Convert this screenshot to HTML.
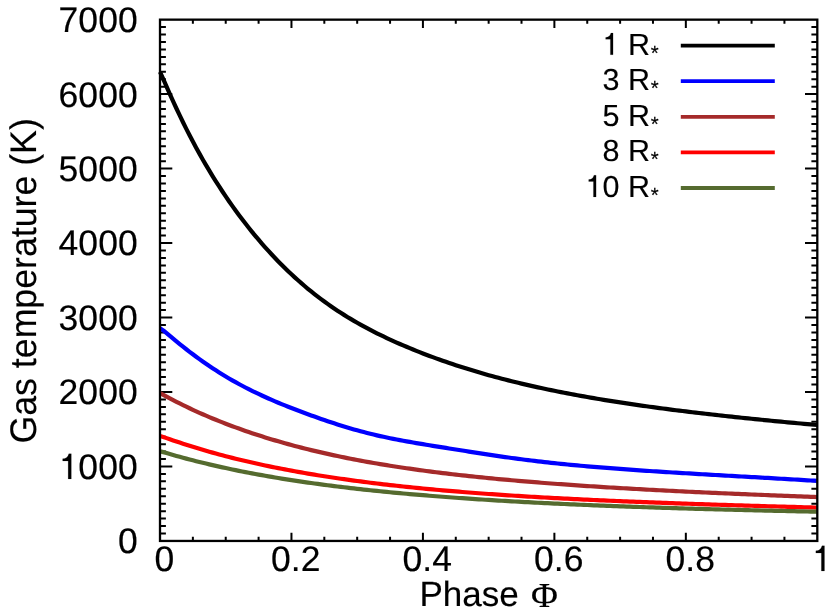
<!DOCTYPE html>
<html><head><meta charset="utf-8"><title>Gas temperature vs phase</title>
<style>html,body{margin:0;padding:0;background:#fff;}svg{display:block;will-change:transform;}text{font-family:"Liberation Sans",sans-serif;fill:#000;stroke:#000;stroke-width:0.15px;text-rendering:geometricPrecision;}.ser{font-family:"Liberation Serif",serif;}.h{fill:none;stroke:none;}</style></head><body>
<svg width="830" height="614" viewBox="0 0 830 614">
<rect x="0" y="0" width="830" height="614" fill="#ffffff"/>
<path d="M192.87 540.95 V536.75 M192.87 19.65 V23.85 M225.73 540.95 V536.75 M225.73 19.65 V23.85 M258.60 540.95 V536.75 M258.60 19.65 V23.85 M291.46 540.95 V532.65 M291.46 19.65 V27.95 M324.32 540.95 V536.75 M324.32 19.65 V23.85 M357.19 540.95 V536.75 M357.19 19.65 V23.85 M390.06 540.95 V536.75 M390.06 19.65 V23.85 M422.92 540.95 V532.65 M422.92 19.65 V27.95 M455.78 540.95 V536.75 M455.78 19.65 V23.85 M488.65 540.95 V536.75 M488.65 19.65 V23.85 M521.51 540.95 V536.75 M521.51 19.65 V23.85 M554.38 540.95 V532.65 M554.38 19.65 V27.95 M587.25 540.95 V536.75 M587.25 19.65 V23.85 M620.11 540.95 V536.75 M620.11 19.65 V23.85 M652.97 540.95 V536.75 M652.97 19.65 V23.85 M685.84 540.95 V532.65 M685.84 19.65 V27.95 M718.71 540.95 V536.75 M718.71 19.65 V23.85 M751.57 540.95 V536.75 M751.57 19.65 V23.85 M784.43 540.95 V536.75 M784.43 19.65 V23.85 M160.00 533.50 H165.90 M817.30 533.50 H811.40 M160.00 526.06 H165.90 M817.30 526.06 H811.40 M160.00 518.61 H165.90 M817.30 518.61 H811.40 M160.00 511.16 H165.90 M817.30 511.16 H811.40 M160.00 503.71 H165.90 M817.30 503.71 H811.40 M160.00 496.27 H165.90 M817.30 496.27 H811.40 M160.00 488.82 H165.90 M817.30 488.82 H811.40 M160.00 481.37 H165.90 M817.30 481.37 H811.40 M160.00 473.93 H165.90 M817.30 473.93 H811.40 M160.00 466.48 H172.30 M817.30 466.48 H805.00 M160.00 459.03 H165.90 M817.30 459.03 H811.40 M160.00 451.58 H165.90 M817.30 451.58 H811.40 M160.00 444.14 H165.90 M817.30 444.14 H811.40 M160.00 436.69 H165.90 M817.30 436.69 H811.40 M160.00 429.24 H165.90 M817.30 429.24 H811.40 M160.00 421.80 H165.90 M817.30 421.80 H811.40 M160.00 414.35 H165.90 M817.30 414.35 H811.40 M160.00 406.90 H165.90 M817.30 406.90 H811.40 M160.00 399.45 H165.90 M817.30 399.45 H811.40 M160.00 392.01 H172.30 M817.30 392.01 H805.00 M160.00 384.56 H165.90 M817.30 384.56 H811.40 M160.00 377.11 H165.90 M817.30 377.11 H811.40 M160.00 369.67 H165.90 M817.30 369.67 H811.40 M160.00 362.22 H165.90 M817.30 362.22 H811.40 M160.00 354.77 H165.90 M817.30 354.77 H811.40 M160.00 347.32 H165.90 M817.30 347.32 H811.40 M160.00 339.88 H165.90 M817.30 339.88 H811.40 M160.00 332.43 H165.90 M817.30 332.43 H811.40 M160.00 324.98 H165.90 M817.30 324.98 H811.40 M160.00 317.54 H172.30 M817.30 317.54 H805.00 M160.00 310.09 H165.90 M817.30 310.09 H811.40 M160.00 302.64 H165.90 M817.30 302.64 H811.40 M160.00 295.19 H165.90 M817.30 295.19 H811.40 M160.00 287.75 H165.90 M817.30 287.75 H811.40 M160.00 280.30 H165.90 M817.30 280.30 H811.40 M160.00 272.85 H165.90 M817.30 272.85 H811.40 M160.00 265.41 H165.90 M817.30 265.41 H811.40 M160.00 257.96 H165.90 M817.30 257.96 H811.40 M160.00 250.51 H165.90 M817.30 250.51 H811.40 M160.00 243.06 H172.30 M817.30 243.06 H805.00 M160.00 235.62 H165.90 M817.30 235.62 H811.40 M160.00 228.17 H165.90 M817.30 228.17 H811.40 M160.00 220.72 H165.90 M817.30 220.72 H811.40 M160.00 213.28 H165.90 M817.30 213.28 H811.40 M160.00 205.83 H165.90 M817.30 205.83 H811.40 M160.00 198.38 H165.90 M817.30 198.38 H811.40 M160.00 190.93 H165.90 M817.30 190.93 H811.40 M160.00 183.49 H165.90 M817.30 183.49 H811.40 M160.00 176.04 H165.90 M817.30 176.04 H811.40 M160.00 168.59 H172.30 M817.30 168.59 H805.00 M160.00 161.15 H165.90 M817.30 161.15 H811.40 M160.00 153.70 H165.90 M817.30 153.70 H811.40 M160.00 146.25 H165.90 M817.30 146.25 H811.40 M160.00 138.80 H165.90 M817.30 138.80 H811.40 M160.00 131.36 H165.90 M817.30 131.36 H811.40 M160.00 123.91 H165.90 M817.30 123.91 H811.40 M160.00 116.46 H165.90 M817.30 116.46 H811.40 M160.00 109.02 H165.90 M817.30 109.02 H811.40 M160.00 101.57 H165.90 M817.30 101.57 H811.40 M160.00 94.12 H172.30 M817.30 94.12 H805.00 M160.00 86.67 H165.90 M817.30 86.67 H811.40 M160.00 79.23 H165.90 M817.30 79.23 H811.40 M160.00 71.78 H165.90 M817.30 71.78 H811.40 M160.00 64.33 H165.90 M817.30 64.33 H811.40 M160.00 56.89 H165.90 M817.30 56.89 H811.40 M160.00 49.44 H165.90 M817.30 49.44 H811.40 M160.00 41.99 H165.90 M817.30 41.99 H811.40 M160.00 34.54 H165.90 M817.30 34.54 H811.40 M160.00 27.10 H165.90 M817.30 27.10 H811.40" stroke="#000" stroke-width="2.00" fill="none"/>
<g fill="none" stroke-width="4.20" stroke-linejoin="round" stroke-linecap="butt">
<path d="M160.00 71.80 L163.29 79.06 L166.57 86.63 L169.86 94.09 L173.15 101.38 L176.43 108.50 L179.72 115.44 L183.01 122.21 L186.29 128.82 L189.58 135.26 L192.87 141.54 L196.15 147.66 L199.44 153.62 L202.72 159.44 L206.01 165.12 L209.30 170.66 L212.58 176.06 L215.87 181.34 L219.16 186.48 L222.44 191.51 L225.73 196.41 L229.02 201.20 L232.30 205.88 L235.59 210.46 L238.88 214.92 L242.16 219.29 L245.45 223.56 L248.74 227.73 L252.02 231.81 L255.31 235.81 L258.59 239.71 L261.88 243.53 L265.17 247.27 L268.45 250.93 L271.74 254.51 L275.03 258.01 L278.31 261.42 L281.60 264.76 L284.89 268.02 L288.17 271.21 L291.46 274.32 L294.75 277.35 L298.03 280.31 L301.32 283.20 L304.61 286.02 L307.89 288.77 L311.18 291.45 L314.47 294.06 L317.75 296.61 L321.04 299.10 L324.32 301.52 L327.61 303.89 L330.90 306.19 L334.18 308.45 L337.47 310.64 L340.76 312.78 L344.04 314.87 L347.33 316.91 L350.62 318.90 L353.90 320.84 L357.19 322.74 L360.48 324.59 L363.76 326.41 L367.05 328.18 L370.34 329.91 L373.62 331.61 L376.91 333.27 L380.20 334.89 L383.48 336.48 L386.77 338.05 L390.06 339.57 L393.34 341.07 L396.63 342.55 L399.91 343.99 L403.20 345.41 L406.49 346.80 L409.77 348.17 L413.06 349.52 L416.35 350.84 L419.63 352.14 L422.92 353.42 L426.21 354.68 L429.49 355.92 L432.78 357.14 L436.07 358.35 L439.35 359.53 L442.64 360.69 L445.93 361.84 L449.21 362.97 L452.50 364.07 L455.78 365.17 L459.07 366.24 L462.36 367.30 L465.64 368.33 L468.93 369.36 L472.22 370.36 L475.50 371.35 L478.79 372.32 L482.08 373.28 L485.36 374.22 L488.65 375.15 L491.94 376.06 L495.22 376.95 L498.51 377.83 L501.80 378.70 L505.08 379.55 L508.37 380.38 L511.66 381.21 L514.94 382.02 L518.23 382.81 L521.51 383.60 L524.80 384.37 L528.09 385.13 L531.37 385.88 L534.66 386.62 L537.95 387.34 L541.23 388.05 L544.52 388.76 L547.81 389.45 L551.09 390.13 L554.38 390.81 L557.67 391.47 L560.95 392.12 L564.24 392.76 L567.53 393.40 L570.81 394.02 L574.10 394.64 L577.39 395.24 L580.67 395.84 L583.96 396.43 L587.25 397.02 L590.53 397.59 L593.82 398.16 L597.10 398.71 L600.39 399.27 L603.68 399.81 L606.96 400.35 L610.25 400.88 L613.54 401.40 L616.82 401.92 L620.11 402.43 L623.40 402.93 L626.68 403.43 L629.97 403.92 L633.26 404.40 L636.54 404.88 L639.83 405.35 L643.12 405.82 L646.40 406.28 L649.69 406.74 L652.97 407.19 L656.26 407.64 L659.55 408.08 L662.83 408.52 L666.12 408.95 L669.41 409.37 L672.69 409.80 L675.98 410.21 L679.27 410.63 L682.55 411.03 L685.84 411.44 L689.13 411.84 L692.41 412.24 L695.70 412.63 L698.99 413.02 L702.27 413.40 L705.56 413.78 L708.85 414.16 L712.13 414.53 L715.42 414.90 L718.70 415.27 L721.99 415.63 L725.28 415.99 L728.56 416.35 L731.85 416.70 L735.14 417.05 L738.42 417.40 L741.71 417.75 L745.00 418.09 L748.28 418.43 L751.57 418.76 L754.86 419.10 L758.14 419.43 L761.43 419.76 L764.72 420.08 L768.00 420.41 L771.29 420.73 L774.58 421.05 L777.86 421.37 L781.15 421.68 L784.43 421.99 L787.72 422.30 L791.01 422.61 L794.29 422.92 L797.58 423.22 L800.87 423.53 L804.15 423.83 L807.44 424.13 L810.73 424.42 L814.01 424.72 L817.30 425.01" stroke="#000000"/>
<path d="M160.00 328.31 L163.29 330.44 L166.57 333.17 L169.86 335.93 L173.15 338.67 L176.43 341.39 L179.72 344.06 L183.01 346.68 L186.29 349.26 L189.58 351.79 L192.87 354.28 L196.15 356.71 L199.44 359.10 L202.72 361.43 L206.01 363.73 L209.30 365.97 L212.58 368.17 L215.87 370.32 L219.16 372.42 L222.44 374.47 L225.73 376.47 L229.02 378.43 L232.30 380.33 L235.59 382.19 L238.88 384.01 L242.16 385.77 L245.45 387.50 L248.74 389.18 L252.02 390.81 L255.31 392.41 L258.59 393.98 L261.88 395.51 L265.17 397.01 L268.45 398.47 L271.74 399.91 L275.03 401.32 L278.31 402.71 L281.60 404.07 L284.89 405.41 L288.17 406.72 L291.46 408.02 L294.75 409.29 L298.03 410.55 L301.32 411.79 L304.61 413.01 L307.89 414.21 L311.18 415.41 L314.47 416.58 L317.75 417.75 L321.04 418.90 L324.32 420.04 L327.61 421.16 L330.90 422.27 L334.18 423.35 L337.47 424.42 L340.76 425.46 L344.04 426.48 L347.33 427.48 L350.62 428.45 L353.90 429.40 L357.19 430.32 L360.48 431.22 L363.76 432.09 L367.05 432.94 L370.34 433.76 L373.62 434.56 L376.91 435.34 L380.20 436.09 L383.48 436.81 L386.77 437.51 L390.06 438.19 L393.34 438.85 L396.63 439.50 L399.91 440.12 L403.20 440.73 L406.49 441.33 L409.77 441.92 L413.06 442.50 L416.35 443.07 L419.63 443.63 L422.92 444.18 L426.21 444.73 L429.49 445.27 L432.78 445.81 L436.07 446.34 L439.35 446.87 L442.64 447.40 L445.93 447.92 L449.21 448.45 L452.50 448.97 L455.78 449.49 L459.07 450.01 L462.36 450.53 L465.64 451.05 L468.93 451.57 L472.22 452.09 L475.50 452.60 L478.79 453.12 L482.08 453.62 L485.36 454.13 L488.65 454.63 L491.94 455.13 L495.22 455.62 L498.51 456.10 L501.80 456.58 L505.08 457.05 L508.37 457.52 L511.66 457.97 L514.94 458.42 L518.23 458.86 L521.51 459.29 L524.80 459.72 L528.09 460.13 L531.37 460.53 L534.66 460.93 L537.95 461.32 L541.23 461.70 L544.52 462.07 L547.81 462.44 L551.09 462.79 L554.38 463.15 L557.67 463.49 L560.95 463.83 L564.24 464.16 L567.53 464.48 L570.81 464.80 L574.10 465.11 L577.39 465.42 L580.67 465.72 L583.96 466.02 L587.25 466.31 L590.53 466.59 L593.82 466.87 L597.10 467.15 L600.39 467.42 L603.68 467.69 L606.96 467.95 L610.25 468.20 L613.54 468.46 L616.82 468.71 L620.11 468.95 L623.40 469.20 L626.68 469.43 L629.97 469.67 L633.26 469.90 L636.54 470.13 L639.83 470.36 L643.12 470.58 L646.40 470.80 L649.69 471.02 L652.97 471.23 L656.26 471.44 L659.55 471.66 L662.83 471.86 L666.12 472.07 L669.41 472.27 L672.69 472.48 L675.98 472.68 L679.27 472.88 L682.55 473.08 L685.84 473.27 L689.13 473.47 L692.41 473.66 L695.70 473.85 L698.99 474.04 L702.27 474.24 L705.56 474.43 L708.85 474.61 L712.13 474.80 L715.42 474.99 L718.70 475.18 L721.99 475.36 L725.28 475.55 L728.56 475.74 L731.85 475.92 L735.14 476.11 L738.42 476.29 L741.71 476.48 L745.00 476.67 L748.28 476.85 L751.57 477.04 L754.86 477.22 L758.14 477.41 L761.43 477.60 L764.72 477.79 L768.00 477.97 L771.29 478.16 L774.58 478.35 L777.86 478.54 L781.15 478.73 L784.43 478.92 L787.72 479.12 L791.01 479.31 L794.29 479.50 L797.58 479.70 L800.87 479.90 L804.15 480.09 L807.44 480.29 L810.73 480.49 L814.01 480.69 L817.30 480.90" stroke="#0000ff"/>
<path d="M160.00 392.99 L163.29 394.82 L166.57 396.61 L169.86 398.37 L173.15 400.10 L176.43 401.79 L179.72 403.45 L183.01 405.08 L186.29 406.68 L189.58 408.25 L192.87 409.79 L196.15 411.30 L199.44 412.79 L202.72 414.24 L206.01 415.67 L209.30 417.07 L212.58 418.44 L215.87 419.79 L219.16 421.12 L222.44 422.42 L225.73 423.70 L229.02 424.95 L232.30 426.19 L235.59 427.40 L238.88 428.59 L242.16 429.76 L245.45 430.91 L248.74 432.03 L252.02 433.14 L255.31 434.23 L258.59 435.30 L261.88 436.36 L265.17 437.39 L268.45 438.40 L271.74 439.40 L275.03 440.38 L278.31 441.34 L281.60 442.29 L284.89 443.22 L288.17 444.13 L291.46 445.03 L294.75 445.91 L298.03 446.77 L301.32 447.62 L304.61 448.46 L307.89 449.28 L311.18 450.09 L314.47 450.88 L317.75 451.66 L321.04 452.42 L324.32 453.17 L327.61 453.91 L330.90 454.64 L334.18 455.35 L337.47 456.05 L340.76 456.73 L344.04 457.41 L347.33 458.07 L350.62 458.73 L353.90 459.37 L357.19 460.00 L360.48 460.61 L363.76 461.22 L367.05 461.82 L370.34 462.41 L373.62 462.98 L376.91 463.55 L380.20 464.10 L383.48 464.65 L386.77 465.19 L390.06 465.71 L393.34 466.23 L396.63 466.74 L399.91 467.24 L403.20 467.74 L406.49 468.22 L409.77 468.70 L413.06 469.16 L416.35 469.62 L419.63 470.08 L422.92 470.52 L426.21 470.96 L429.49 471.39 L432.78 471.82 L436.07 472.23 L439.35 472.64 L442.64 473.05 L445.93 473.44 L449.21 473.84 L452.50 474.22 L455.78 474.60 L459.07 474.97 L462.36 475.34 L465.64 475.70 L468.93 476.06 L472.22 476.41 L475.50 476.76 L478.79 477.10 L482.08 477.43 L485.36 477.76 L488.65 478.09 L491.94 478.41 L495.22 478.73 L498.51 479.04 L501.80 479.35 L505.08 479.65 L508.37 479.95 L511.66 480.24 L514.94 480.53 L518.23 480.82 L521.51 481.10 L524.80 481.38 L528.09 481.66 L531.37 481.93 L534.66 482.20 L537.95 482.46 L541.23 482.72 L544.52 482.98 L547.81 483.23 L551.09 483.48 L554.38 483.73 L557.67 483.97 L560.95 484.21 L564.24 484.45 L567.53 484.69 L570.81 484.92 L574.10 485.15 L577.39 485.37 L580.67 485.60 L583.96 485.82 L587.25 486.03 L590.53 486.25 L593.82 486.46 L597.10 486.67 L600.39 486.88 L603.68 487.09 L606.96 487.29 L610.25 487.49 L613.54 487.69 L616.82 487.89 L620.11 488.08 L623.40 488.27 L626.68 488.46 L629.97 488.65 L633.26 488.84 L636.54 489.02 L639.83 489.20 L643.12 489.38 L646.40 489.56 L649.69 489.74 L652.97 489.91 L656.26 490.09 L659.55 490.26 L662.83 490.43 L666.12 490.59 L669.41 490.76 L672.69 490.93 L675.98 491.09 L679.27 491.25 L682.55 491.41 L685.84 491.57 L689.13 491.73 L692.41 491.88 L695.70 492.04 L698.99 492.19 L702.27 492.34 L705.56 492.50 L708.85 492.64 L712.13 492.79 L715.42 492.94 L718.70 493.09 L721.99 493.23 L725.28 493.38 L728.56 493.52 L731.85 493.66 L735.14 493.80 L738.42 493.94 L741.71 494.08 L745.00 494.22 L748.28 494.35 L751.57 494.49 L754.86 494.62 L758.14 494.76 L761.43 494.89 L764.72 495.02 L768.00 495.15 L771.29 495.28 L774.58 495.41 L777.86 495.54 L781.15 495.67 L784.43 495.80 L787.72 495.92 L791.01 496.05 L794.29 496.18 L797.58 496.30 L800.87 496.42 L804.15 496.55 L807.44 496.67 L810.73 496.79 L814.01 496.91 L817.30 497.04" stroke="#a52a2a"/>
<path d="M160.00 436.00 L163.29 437.00 L166.57 438.14 L169.86 439.27 L173.15 440.40 L176.43 441.51 L179.72 442.61 L183.01 443.69 L186.29 444.75 L189.58 445.79 L192.87 446.82 L196.15 447.83 L199.44 448.83 L202.72 449.80 L206.01 450.76 L209.30 451.70 L212.58 452.63 L215.87 453.54 L219.16 454.43 L222.44 455.31 L225.73 456.18 L229.02 457.03 L232.30 457.86 L235.59 458.68 L238.88 459.49 L242.16 460.28 L245.45 461.06 L248.74 461.82 L252.02 462.57 L255.31 463.31 L258.59 464.04 L261.88 464.75 L265.17 465.46 L268.45 466.15 L271.74 466.82 L275.03 467.49 L278.31 468.15 L281.60 468.79 L284.89 469.43 L288.17 470.05 L291.46 470.66 L294.75 471.27 L298.03 471.86 L301.32 472.44 L304.61 473.02 L307.89 473.58 L311.18 474.13 L314.47 474.68 L317.75 475.22 L321.04 475.74 L324.32 476.26 L327.61 476.77 L330.90 477.28 L334.18 477.77 L337.47 478.26 L340.76 478.73 L344.04 479.20 L347.33 479.67 L350.62 480.12 L353.90 480.57 L357.19 481.01 L360.48 481.44 L363.76 481.87 L367.05 482.29 L370.34 482.71 L373.62 483.11 L376.91 483.51 L380.20 483.91 L383.48 484.29 L386.77 484.68 L390.06 485.05 L393.34 485.42 L396.63 485.78 L399.91 486.14 L403.20 486.49 L406.49 486.84 L409.77 487.18 L413.06 487.52 L416.35 487.85 L419.63 488.18 L422.92 488.50 L426.21 488.81 L429.49 489.12 L432.78 489.43 L436.07 489.73 L439.35 490.03 L442.64 490.32 L445.93 490.61 L449.21 490.89 L452.50 491.17 L455.78 491.44 L459.07 491.71 L462.36 491.98 L465.64 492.24 L468.93 492.50 L472.22 492.75 L475.50 493.00 L478.79 493.25 L482.08 493.49 L485.36 493.73 L488.65 493.97 L491.94 494.20 L495.22 494.43 L498.51 494.65 L501.80 494.87 L505.08 495.09 L508.37 495.31 L511.66 495.52 L514.94 495.73 L518.23 495.94 L521.51 496.14 L524.80 496.34 L528.09 496.54 L531.37 496.74 L534.66 496.93 L537.95 497.12 L541.23 497.31 L544.52 497.49 L547.81 497.67 L551.09 497.85 L554.38 498.03 L557.67 498.21 L560.95 498.38 L564.24 498.55 L567.53 498.72 L570.81 498.89 L574.10 499.05 L577.39 499.21 L580.67 499.37 L583.96 499.53 L587.25 499.69 L590.53 499.84 L593.82 500.00 L597.10 500.15 L600.39 500.30 L603.68 500.44 L606.96 500.59 L610.25 500.73 L613.54 500.88 L616.82 501.02 L620.11 501.16 L623.40 501.29 L626.68 501.43 L629.97 501.57 L633.26 501.70 L636.54 501.83 L639.83 501.96 L643.12 502.09 L646.40 502.22 L649.69 502.34 L652.97 502.47 L656.26 502.59 L659.55 502.72 L662.83 502.84 L666.12 502.96 L669.41 503.08 L672.69 503.20 L675.98 503.31 L679.27 503.43 L682.55 503.54 L685.84 503.66 L689.13 503.77 L692.41 503.88 L695.70 503.99 L698.99 504.10 L702.27 504.21 L705.56 504.32 L708.85 504.43 L712.13 504.53 L715.42 504.64 L718.70 504.74 L721.99 504.85 L725.28 504.95 L728.56 505.05 L731.85 505.15 L735.14 505.26 L738.42 505.36 L741.71 505.45 L745.00 505.55 L748.28 505.65 L751.57 505.75 L754.86 505.85 L758.14 505.94 L761.43 506.04 L764.72 506.13 L768.00 506.23 L771.29 506.32 L774.58 506.41 L777.86 506.51 L781.15 506.60 L784.43 506.69 L787.72 506.78 L791.01 506.87 L794.29 506.96 L797.58 507.05 L800.87 507.14 L804.15 507.23 L807.44 507.32 L810.73 507.41 L814.01 507.50 L817.30 507.59" stroke="#ff0000"/>
<path d="M160.00 451.20 L163.29 452.12 L166.57 453.09 L169.86 454.04 L173.15 454.99 L176.43 455.91 L179.72 456.82 L183.01 457.72 L186.29 458.60 L189.58 459.47 L192.87 460.32 L196.15 461.16 L199.44 461.98 L202.72 462.79 L206.01 463.58 L209.30 464.36 L212.58 465.13 L215.87 465.89 L219.16 466.63 L222.44 467.35 L225.73 468.07 L229.02 468.77 L232.30 469.47 L235.59 470.15 L238.88 470.82 L242.16 471.47 L245.45 472.12 L248.74 472.75 L252.02 473.38 L255.31 473.99 L258.59 474.60 L261.88 475.19 L265.17 475.78 L268.45 476.35 L271.74 476.92 L275.03 477.47 L278.31 478.02 L281.60 478.56 L284.89 479.08 L288.17 479.60 L291.46 480.12 L294.75 480.62 L298.03 481.12 L301.32 481.60 L304.61 482.08 L307.89 482.56 L311.18 483.02 L314.47 483.48 L317.75 483.93 L321.04 484.37 L324.32 484.81 L327.61 485.24 L330.90 485.66 L334.18 486.07 L337.47 486.48 L340.76 486.89 L344.04 487.28 L347.33 487.67 L350.62 488.06 L353.90 488.44 L357.19 488.81 L360.48 489.18 L363.76 489.54 L367.05 489.89 L370.34 490.24 L373.62 490.59 L376.91 490.93 L380.20 491.26 L383.48 491.59 L386.77 491.92 L390.06 492.24 L393.34 492.55 L396.63 492.86 L399.91 493.17 L403.20 493.47 L406.49 493.77 L409.77 494.06 L413.06 494.35 L416.35 494.63 L419.63 494.91 L422.92 495.19 L426.21 495.46 L429.49 495.73 L432.78 495.99 L436.07 496.25 L439.35 496.51 L442.64 496.76 L445.93 497.01 L449.21 497.25 L452.50 497.50 L455.78 497.73 L459.07 497.97 L462.36 498.20 L465.64 498.43 L468.93 498.65 L472.22 498.88 L475.50 499.10 L478.79 499.31 L482.08 499.52 L485.36 499.73 L488.65 499.94 L491.94 500.14 L495.22 500.35 L498.51 500.54 L501.80 500.74 L505.08 500.93 L508.37 501.12 L511.66 501.31 L514.94 501.50 L518.23 501.68 L521.51 501.86 L524.80 502.04 L528.09 502.21 L531.37 502.39 L534.66 502.56 L537.95 502.73 L541.23 502.89 L544.52 503.06 L547.81 503.22 L551.09 503.38 L554.38 503.54 L557.67 503.70 L560.95 503.85 L564.24 504.00 L567.53 504.15 L570.81 504.30 L574.10 504.45 L577.39 504.59 L580.67 504.73 L583.96 504.87 L587.25 505.01 L590.53 505.15 L593.82 505.29 L597.10 505.42 L600.39 505.55 L603.68 505.68 L606.96 505.81 L610.25 505.94 L613.54 506.07 L616.82 506.19 L620.11 506.32 L623.40 506.44 L626.68 506.56 L629.97 506.68 L633.26 506.79 L636.54 506.91 L639.83 507.02 L643.12 507.14 L646.40 507.25 L649.69 507.36 L652.97 507.47 L656.26 507.58 L659.55 507.69 L662.83 507.79 L666.12 507.90 L669.41 508.00 L672.69 508.10 L675.98 508.20 L679.27 508.30 L682.55 508.40 L685.84 508.50 L689.13 508.60 L692.41 508.69 L695.70 508.79 L698.99 508.88 L702.27 508.97 L705.56 509.06 L708.85 509.15 L712.13 509.24 L715.42 509.33 L718.70 509.42 L721.99 509.51 L725.28 509.59 L728.56 509.68 L731.85 509.76 L735.14 509.85 L738.42 509.93 L741.71 510.01 L745.00 510.09 L748.28 510.17 L751.57 510.25 L754.86 510.33 L758.14 510.41 L761.43 510.49 L764.72 510.56 L768.00 510.64 L771.29 510.71 L774.58 510.79 L777.86 510.86 L781.15 510.93 L784.43 511.00 L787.72 511.08 L791.01 511.15 L794.29 511.22 L797.58 511.29 L800.87 511.35 L804.15 511.42 L807.44 511.49 L810.73 511.56 L814.01 511.62 L817.30 511.69" stroke="#556b2f"/>
</g>
<rect x="160.00" y="19.65" width="657.30" height="521.30" fill="none" stroke="#000" stroke-width="2.30"/>
<text x="137.90" y="553.35" font-size="35.5" letter-spacing="0.10" text-anchor="end">0</text>
<text x="137.90" y="478.88" font-size="35.5" letter-spacing="0.10" text-anchor="end"><tspan class="h">1</tspan>000</text>
<path transform="translate(59.05 478.88) scale(0.03550 -0.03550)" d="M345 0 L257 0 L257 505 L102 505 L102 568 C193 568 250 610 275 709 L345 709 Z" fill="#000" stroke="#000" stroke-width="4.2"/>
<text x="137.90" y="404.41" font-size="35.5" letter-spacing="0.10" text-anchor="end">2000</text>
<text x="137.90" y="329.94" font-size="35.5" letter-spacing="0.10" text-anchor="end">3000</text>
<text x="137.90" y="255.46" font-size="35.5" letter-spacing="0.10" text-anchor="end">4000</text>
<text x="137.90" y="180.99" font-size="35.5" letter-spacing="0.10" text-anchor="end">5000</text>
<text x="137.90" y="106.52" font-size="35.5" letter-spacing="0.10" text-anchor="end">6000</text>
<text x="137.90" y="32.05" font-size="35.5" letter-spacing="0.10" text-anchor="end">7000</text>
<text x="164.40" y="571.00" font-size="35.5" letter-spacing="0.10" text-anchor="middle">0</text>
<text x="295.86" y="571.00" font-size="35.5" letter-spacing="0.10" text-anchor="middle">0.2</text>
<text x="427.32" y="571.00" font-size="35.5" letter-spacing="0.10" text-anchor="middle">0.4</text>
<text x="558.78" y="571.00" font-size="35.5" letter-spacing="0.10" text-anchor="middle">0.6</text>
<text x="690.24" y="571.00" font-size="35.5" letter-spacing="0.10" text-anchor="middle">0.8</text>
<text x="821.70" y="571.00" font-size="35.5" text-anchor="middle" class="h">1</text>
<path transform="translate(812.23 571.00) scale(0.03550 -0.03550)" d="M345 0 L257 0 L257 505 L102 505 L102 568 C193 568 250 610 275 709 L345 709 Z" fill="#000" stroke="#000" stroke-width="4.2"/>
<text x="419.5" y="606" font-size="35">Phase</text><text transform="translate(530.9 606.5) scale(1.05 1)" font-size="35.0" class="ser">&#934;</text>
<text transform="translate(35.9 443.5) rotate(-90) scale(1 1.035)" font-size="35.7">Gas temperature (K)</text>
<text x="650" y="54.70" font-size="30.5" text-anchor="end"><tspan class="h">1</tspan> R</text>
<path transform="translate(602.54 54.70) scale(0.03050 -0.03050)" d="M345 0 L257 0 L257 505 L102 505 L102 568 C193 568 250 610 275 709 L345 709 Z" fill="#000" stroke="#000" stroke-width="4.9"/>
<text x="650.8" y="59.70" font-size="20.5" stroke-width="0.3">*</text>
<path d="M680.8 45.60 H774.8" stroke="#000000" stroke-width="3.80" fill="none"/>
<text x="650" y="90.25" font-size="30.5" text-anchor="end">3 R</text>
<text x="650.8" y="95.25" font-size="20.5" stroke-width="0.3">*</text>
<path d="M680.8 81.20 H774.8" stroke="#0000ff" stroke-width="3.80" fill="none"/>
<text x="650" y="125.80" font-size="30.5" text-anchor="end">5 R</text>
<text x="650.8" y="130.80" font-size="20.5" stroke-width="0.3">*</text>
<path d="M680.8 116.80 H774.8" stroke="#a52a2a" stroke-width="3.80" fill="none"/>
<text x="650" y="161.35" font-size="30.5" text-anchor="end">8 R</text>
<text x="650.8" y="166.35" font-size="20.5" stroke-width="0.3">*</text>
<path d="M680.8 152.40 H774.8" stroke="#ff0000" stroke-width="3.80" fill="none"/>
<text x="650" y="196.90" font-size="30.5" text-anchor="end"><tspan class="h">1</tspan>0 R</text>
<path transform="translate(585.58 196.90) scale(0.03050 -0.03050)" d="M345 0 L257 0 L257 505 L102 505 L102 568 C193 568 250 610 275 709 L345 709 Z" fill="#000" stroke="#000" stroke-width="4.9"/>
<text x="650.8" y="201.90" font-size="20.5" stroke-width="0.3">*</text>
<path d="M680.8 188.00 H774.8" stroke="#556b2f" stroke-width="3.80" fill="none"/>
</svg></body></html>
